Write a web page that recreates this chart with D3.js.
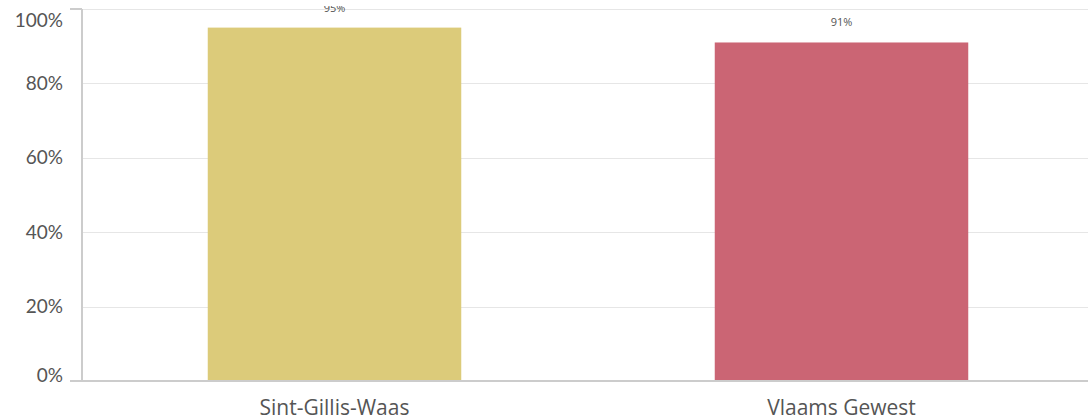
<!DOCTYPE html>
<html><head><meta charset="utf-8">
<script src="https://cdn.jsdelivr.net/npm/d3@7"></script>
<style>body{margin:0;background:#fff;}svg{display:block;}</style>
</head><body>
<svg id="c" width="1088" height="419"></svg>
<script>
const categories = ["Sint-Gillis-Waas", "Vlaams Gewest"];
const values = [0.95, 0.91];
const colors = ["#dccb7a", "#cb6574"];
const yTicks = [0, 0.2, 0.4, 0.6, 0.8, 1.0];

(function () {
const svg = d3.select("#c");
const mLeft = 82, mRight = 1095, mTop = 9, mBottom = 381;
const x = d3.scaleBand().domain(categories).range([mLeft - 1, mRight]).paddingInner(0.5).paddingOuter(0.25);
const y = d3.scaleLinear().domain([0, 1]).range([mBottom, mTop]);

svg.append("clipPath").attr("id", "lblclip").append("rect")
  .attr("x", 0).attr("y", 6).attr("width", 1088).attr("height", 413);

// gridlines
svg.append("g").selectAll("line").data(yTicks.slice(1)).join("line")
  .attr("x1", mLeft).attr("x2", 1088)
  .attr("y1", d => Math.round(y(d)) + 0.5).attr("y2", d => Math.round(y(d)) + 0.5)
  .attr("stroke", "#e6e6e6").attr("stroke-width", 1);

// bars
svg.append("g").selectAll("rect").data(categories).join("rect")
  .attr("x", d => x(d)).attr("width", x.bandwidth())
  .attr("y", (d, i) => y(values[i])).attr("height", (d, i) => mBottom - y(values[i]))
  .attr("fill", (d, i) => colors[i]);

// value labels
svg.append("g").attr("clip-path", "url(#lblclip)").selectAll("text").data(categories).join("text")
  .attr("x", d => x(d) + x.bandwidth() / 2)
  .attr("y", (d, i) => y(values[i]) - 16)
  .attr("text-anchor", "middle").attr("font-family", "Open Sans, sans-serif")
  .attr("font-size", 11).attr("fill", "#555")
  .text((d, i) => Math.round(values[i] * 100) + "%");

// y axis line and ticks
svg.append("line").attr("x1", mLeft).attr("x2", mLeft).attr("y1", mTop).attr("y2", mBottom)
  .attr("stroke", "#ccc").attr("stroke-width", 2);
svg.append("g").selectAll("line").data([0, 1]).join("line")
  .attr("x1", 70).attr("x2", mLeft).attr("y1", d => y(d)).attr("y2", d => y(d))
  .attr("stroke", "#ccc").attr("stroke-width", 2);
// x axis line
svg.append("line").attr("x1", 70).attr("x2", 1088).attr("y1", mBottom).attr("y2", mBottom)
  .attr("stroke", "#ccc").attr("stroke-width", 2);

// y labels
svg.append("g").selectAll("text").data(yTicks).join("text")
  .attr("x", 63)
  .attr("y", d => Math.min(Math.max(y(d), 20), 375))
  .attr("dy", "0.35em")
  .attr("text-anchor", "end").attr("font-family", "Lato, sans-serif")
  .attr("font-size", 19).attr("fill", "#555")
  .text(d => Math.round(d * 100) + "%");

// x labels
svg.append("g").selectAll("text").data(categories).join("text")
  .attr("x", d => x(d) + x.bandwidth() / 2).attr("y", 415)
  .attr("text-anchor", "middle").attr("font-family", "Open Sans, sans-serif")
  .attr("font-size", 21).attr("fill", "#555")
  .text(d => d);
})();
</script>
</body></html>
